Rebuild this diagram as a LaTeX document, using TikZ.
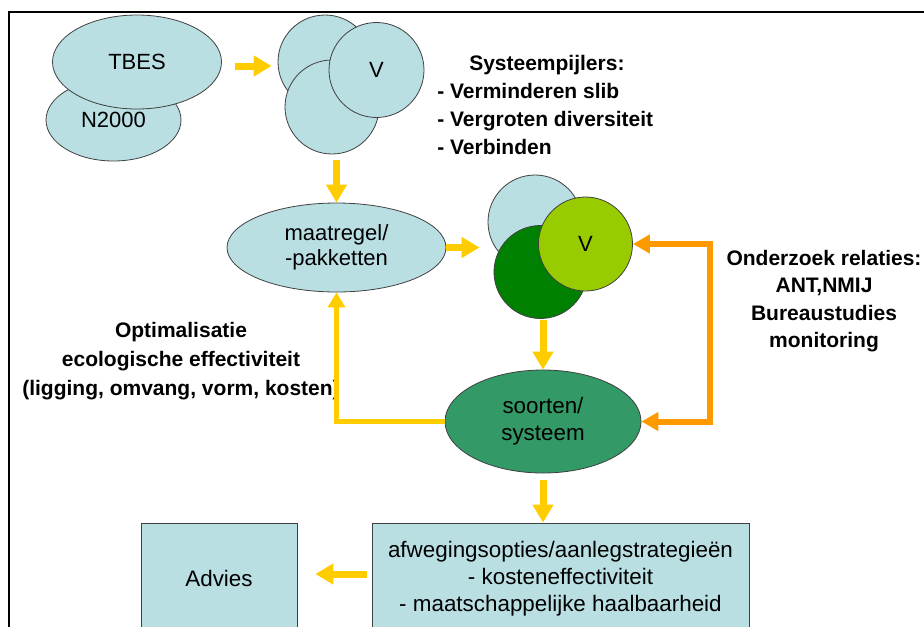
\documentclass[tikz,border=0pt]{standalone}
\usepackage{fontspec}
\setmainfont{Liberation Sans}
\usetikzlibrary{shapes.geometric,arrows.meta}

\definecolor{paleblue}{RGB}{185,223,227}
\definecolor{deepgreen}{RGB}{0,128,0}
\definecolor{limegreen}{RGB}{153,204,0}
\definecolor{seagreen}{RGB}{51,153,102}
\definecolor{arrowyellow}{RGB}{255,204,0}
\definecolor{arroworange}{RGB}{255,153,0}

\begin{document}
\begin{tikzpicture}[x=0.75pt,y=-0.75pt,
  outline/.style={draw=black!75, line width=0.6pt, inner sep=0pt},
  blob/.style={outline, ellipse, fill=paleblue, align=center,
    font=\fontsize{16.5}{18.75}\selectfont},
  disc/.style={outline, circle, minimum size=#1, font=\fontsize{16.5}{18}\selectfont},
  panel/.style={outline, rectangle, fill=paleblue, align=center,
    font=\fontsize{16.8}{20.25}\selectfont},
  note/.style={inner sep=0pt, font=\bfseries\fontsize{15.75}{21}\selectfont},
  yarrow/.style={draw=arrowyellow, line width=5.25pt,
    -{Triangle[length=13.5pt,width=15pt]}},
  yloop/.style={draw=arrowyellow, line width=4.2pt, line join=miter,
    -{Triangle[length=11.25pt,width=12.75pt]}},
  oloop/.style={draw=arroworange, line width=4.5pt, line join=miter,
    {Triangle[length=12.75pt,width=13.5pt]}-{Triangle[length=12.75pt,width=13.5pt]}}
]
\useasboundingbox (0,0) rectangle (924,626);
\clip (0,0) rectangle (924,626);

% frame
\draw[line width=1.5pt] (9,640) -- (9,12) -- (940,12);

% sources
\node[blob, minimum width=101.25pt, minimum height=61.5pt] (n2000) at (113.5,120) {N2000};
\node[blob, minimum width=126.75pt, minimum height=70.5pt] (tbes) at (137,62) {TBES};

% top cluster of circles
\node[disc=70.5pt, fill=paleblue] (cA) at (325,62) {};
\node[disc=70.5pt, fill=paleblue] (cC) at (332,107) {};
\node[disc=71.25pt, fill=paleblue] (cB) at (376.5,70) {V};

% measures
\node[blob, minimum width=164.25pt, minimum height=66.75pt] (maatregel) at (336.5,247.5) {maatregel/\\-pakketten};

% green cluster of circles
\node[disc=70.5pt, fill=paleblue] (gA) at (535,222) {};
\node[disc=69.75pt, fill=deepgreen] (gC) at (540.5,272) {};
\node[disc=70.5pt, fill=limegreen] (gB) at (585.5,244) {V};

% species / system
\node[blob, fill=seagreen, minimum width=147pt, minimum height=77.25pt,
  font=\fontsize{16.8}{20.25}\selectfont] (soorten) at (543,421.5) {soorten/\\systeem};

% bottom boxes
\node[panel, minimum width=117pt, minimum height=82.5pt] (advies) at (219,578) {Advies};
\node[panel, minimum width=282.75pt, minimum height=84pt] (opties) at (560.5,579)
  {afwegingsopties/aanlegstrategieën\\- kosteneffectiviteit\\- maatschappelijke haalbaarheid};

% side notes
\node[note, align=left, anchor=west] (pijlers) at (437,105)
  {\hspace*{24pt}Systeempijlers:\\- Verminderen slib\\- Vergroten diversiteit\\- Verbinden};
\node[note, align=center, font=\bfseries\fontsize{15.75}{20.5}\selectfont] (onderzoek) at (824,301)
  {Onderzoek relaties:\\ANT,NMIJ\\Bureaustudies\\monitoring};
\node[note, align=center, font=\bfseries\fontsize{15.75}{21.75}\selectfont] (optim) at (181,361)
  {Optimalisatie\\ecologische effectiviteit\\(ligging, omvang, vorm, kosten)};

% connectors
\draw[yarrow, shorten <=9.75pt, shorten >=4.5pt]
  ([yshift=-3pt]tbes.east) -- ([yshift=-3pt]tbes.east -| cA.west);
\draw[yarrow, shorten <=4.5pt] (maatregel.north |- cC.south) -- (maatregel.north);
\draw[yarrow, shorten >=6pt] (maatregel.east) -- (maatregel.east -| gA.west);
\draw[yarrow, shorten <=1pt] (soorten.north |- gC.south) -- (soorten.north);
\draw[yarrow, shorten <=5.25pt] (soorten.south) -- (soorten.south |- opties.north);
\draw[yarrow, shorten <=3.75pt, shorten >=13.5pt]
  ([yshift=3.75pt]opties.west) -- ([yshift=3.75pt]opties.west -| advies.east);

\draw[yloop] (soorten.west) -| (maatregel.south);

\coordinate (obar) at (710,330);
\draw[oloop] (gB.east) -| (obar) |- (soorten.east);
\end{tikzpicture}
\end{document}
